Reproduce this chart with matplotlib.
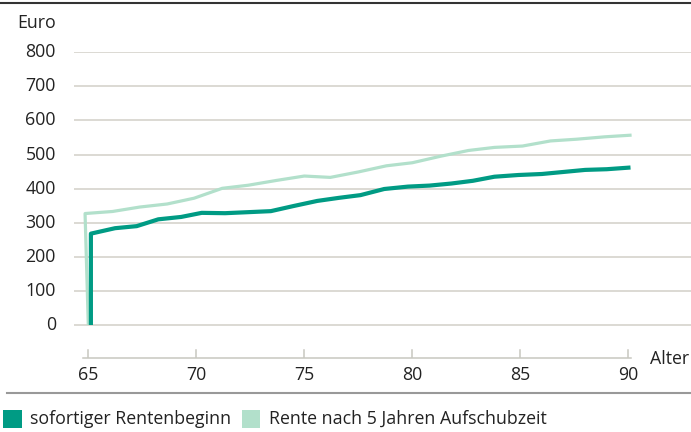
import matplotlib
matplotlib.use("Agg")
import matplotlib.pyplot as plt
from matplotlib.lines import Line2D
from matplotlib.patches import Rectangle

plt.rcParams['font.family'] = ['Open Sans', 'DejaVu Sans']

# Data
ages_sofort = [65.12, 65.12, 66.24, 67.24, 68.24, 69.3, 70.25, 71.33, 72.4, 73.45, 74.5,
               75.6, 76.6, 77.6, 78.7, 79.8, 80.8, 81.8, 82.8, 83.8, 84.9, 86.0,
               87.0, 88.0, 89.0, 90.1]
vals_sofort = [0, 268, 284, 290, 310, 317, 329, 328, 331, 334, 349,
               364, 373, 381, 399, 406, 409, 415, 423, 435, 440, 443,
               449, 455, 457, 462]

ages_aufschub = [65.0, 64.85, 66.12, 67.38, 68.65, 69.9, 71.2, 72.4, 73.7, 75.0, 76.2,
                 77.5, 78.8, 80.0, 81.3, 82.6, 83.8, 85.1, 86.4, 87.6, 88.9, 90.15]
vals_aufschub = [0, 327, 333, 346, 355, 372, 401, 410, 424, 437, 433,
                 449, 467, 476, 495, 512, 521, 525, 540, 545, 552, 557]

y_ticks = [0, 100, 200, 300, 400, 500, 600, 700, 800]
x_ticks = [65, 70, 75, 80, 85, 90]
legend_labels = ["sofortiger Rentenbeginn", "Rente nach 5 Jahren Aufschubzeit"]

dark = "#009b84"
light = "#b2e0cb"
grid_c = "#d2d0c8"
text_c = "#222222"
fs = 12.8

W, H = 691, 432
fig = plt.figure(figsize=(W / 100, H / 100), dpi=100)

ax = fig.add_axes([74 / W, (H - 358.3) / H, 617 / W, 306 / H])
ax.set_xlim(64.338, 92.90)
ax.set_ylim(-97.7, 800)
for s in ax.spines.values():
    s.set_visible(False)
ax.set_xticks([])
ax.set_yticks([])

for yv in y_ticks:
    ax.axhline(yv, color=grid_c, lw=1.1, zorder=1)

# x axis line and ticks
ax.plot([64.75, 90.1], [-97.7 + 1.5, -97.7 + 1.5], color="#c8c7c0", lw=1.1,
        clip_on=False, zorder=1)
for xv in x_ticks:
    ax.plot([xv, xv], [-96, -73], color="#c8c7c0", lw=1.1, zorder=1)

ax.plot(ages_aufschub, vals_aufschub, color=light, lw=2.3, zorder=2,
        solid_joinstyle='round', solid_capstyle='butt')
ax.plot(ages_sofort, vals_sofort, color=dark, lw=3.0, zorder=3,
        solid_joinstyle='round', solid_capstyle='butt')

# tick labels
for yv in y_ticks:
    fig.text(56 / W, 1 - (325 - yv * 0.3409) / H, str(yv), ha='right', va='center',
             fontsize=fs, color=text_c)
fig.text(56 / W, 1 - 23 / H, "Euro", ha='right', va='center', fontsize=fs, color=text_c)
for xv in x_ticks:
    px = 88.3 + (xv - 65) * 21.6
    fig.text(px / W, 1 - 375 / H, str(xv), ha='center', va='center',
             fontsize=fs, color=text_c)
fig.text(650 / W, 1 - 359 / H, "Alter", ha='left', va='center', fontsize=fs, color=text_c)

# top and bottom rules
fig.add_artist(Line2D([0, 1], [1 - 2.5 / H, 1 - 2.5 / H], color="#333333", lw=1.5))
fig.add_artist(Line2D([7 / W, 1], [1 - 393 / H, 1 - 393 / H], color="#999999", lw=1.5))

# legend
fig.add_artist(Rectangle((3 / W, 1 - 428 / H), 19 / W, 18 / H, color=dark, lw=0))
fig.text(30 / W, 1 - 419 / H, legend_labels[0], ha='left', va='center',
         fontsize=fs, color=text_c)
fig.add_artist(Rectangle((242 / W, 1 - 428 / H), 18 / W, 18 / H, color=light, lw=0))
fig.text(269 / W, 1 - 419 / H, legend_labels[1], ha='left', va='center',
         fontsize=fs, color=text_c)

fig.savefig("out.png", dpi=100)
